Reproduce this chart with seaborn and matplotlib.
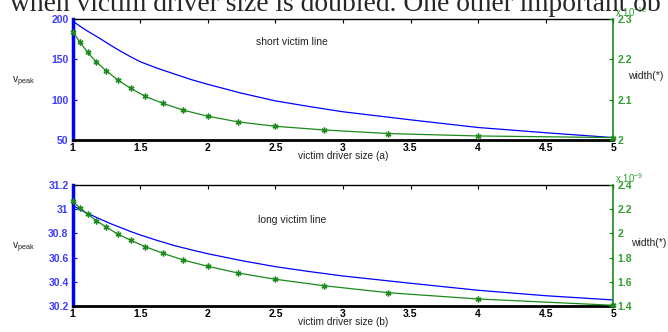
import matplotlib
matplotlib.use('Agg')
import matplotlib.pyplot as plt
import seaborn as sns
from matplotlib.ticker import FuncFormatter

# victim driver sizes where width was sampled (markers)
driver_size = [1.0, 1.053, 1.111, 1.176, 1.25, 1.333, 1.429, 1.538, 1.667,
               1.818, 2.0, 2.222, 2.5, 2.857, 3.333, 4.0, 5.0]
# width, short line (x 1e-10) and long line (x 1e-9)
width_short = [2.2685, 2.243, 2.217, 2.193, 2.171, 2.149, 2.128, 2.108, 2.091,
               2.074, 2.059, 2.045, 2.034, 2.025, 2.016, 2.010, 2.006]
width_long = [2.265, 2.21, 2.158, 2.105, 2.050, 1.995, 1.943, 1.89, 1.836,
              1.78, 1.728, 1.673, 1.621, 1.568, 1.51, 1.458, 1.406]

# peak voltage curves
vpeak_x = [1.0, 1.05, 1.1, 1.15, 1.2, 1.275, 1.35, 1.425, 1.5, 1.625, 1.75, 1.875,
           2.0, 2.25, 2.5, 2.75, 3.0, 3.5, 4.0, 4.5, 5.0]
vpeak_short = [197.5, 191.5, 186, 181, 176, 168, 160.5, 153.5, 147, 139, 132, 125,
               119, 108, 98.5, 91.5, 85, 75, 65.5, 59, 53]
vpeak_long = [31.03, 31.0, 30.97, 30.945, 30.92, 30.883, 30.85, 30.817, 30.787,
              30.742, 30.70, 30.665, 30.632, 30.575, 30.525, 30.485, 30.448,
              30.388, 30.33, 30.285, 30.25]

xticks = [1, 1.5, 2, 2.5, 3, 3.5, 4, 4.5, 5]

sns.set_style("white")
plt.rcParams['font.family'] = ['Liberation Sans', 'DejaVu Sans']
plt.rcParams['mathtext.fontset'] = 'custom'
plt.rcParams['mathtext.rm'] = 'Liberation Sans'

BLUE = '#0000ff'
BLUE_TXT = '#3c3cff'
GREEN = '#1a8a1a'
GREEN_TXT = '#2e9e2e'
gfmt = FuncFormatter(lambda v, p: '%g' % round(v, 6))

W, H = 668, 332
fig = plt.figure(figsize=(W / 100, H / 100), dpi=100)


def panel(top_px, vx, vy, wy, ylim, yticks, wlim, wticks, xlabel, note, note_xy, note_ha, exp):
    ax = fig.add_axes([72.7 / W, 1 - (top_px + 121) / H, 540.5 / W, 121 / H])
    ax2 = ax.twinx()
    sns.lineplot(x=vx, y=vy, ax=ax, color=BLUE, lw=0.9)
    sns.lineplot(x=driver_size, y=wy, ax=ax2, color=GREEN, lw=0.9,
                 marker=(6, 2, 0), markersize=4.2, markeredgecolor=GREEN,
                 markeredgewidth=1.0, clip_on=False)
    ax.set_xlim(1, 5)
    ax.set_ylim(*ylim)
    ax.set_yticks(yticks)
    ax.set_xticks(xticks)
    ax.xaxis.set_major_formatter(gfmt)
    ax.yaxis.set_major_formatter(gfmt)
    ax2.set_ylim(*wlim)
    ax2.set_yticks(wticks)
    ax2.yaxis.set_major_formatter(gfmt)
    ax.tick_params(axis='x', direction='in', length=3, top=True, labelsize=7.5,
                   pad=2, colors='black')
    ax.tick_params(axis='y', direction='in', length=3, labelsize=7.5, pad=3,
                   colors=BLUE, labelcolor=BLUE_TXT)
    ax2.tick_params(axis='y', direction='in', length=3, labelsize=7.5, pad=3,
                    colors=GREEN, labelcolor=GREEN_TXT)
    for lab in ax.get_xticklabels() + ax.get_yticklabels() + ax2.get_yticklabels():
        lab.set_fontweight('bold')
    ax.spines['left'].set_color(BLUE)
    ax.spines['left'].set_linewidth(2.5)
    ax.spines['bottom'].set_linewidth(2)
    ax.spines['bottom'].set_color('black')
    ax.spines['top'].set_linewidth(1)
    ax.spines['top'].set_color('black')
    ax.spines['right'].set_visible(False)
    for s in ['left', 'bottom', 'top']:
        ax2.spines[s].set_visible(False)
    ax2.spines['right'].set_color(GREEN)
    ax2.spines['right'].set_linewidth(1.2)
    ax.set_xlabel('')
    ax.set_ylabel('')
    ax2.set_ylabel('')
    ax.text(note_xy[0], note_xy[1], note, fontsize=7.5, ha=note_ha, va='center',
            color='#222222')
    fig.text(343 / W, 1 - (top_px + 137) / H, xlabel, fontsize=7.3, ha='center',
             va='center', color='#222222')
    fig.text(12 / W, 1 - (top_px + 63) / H, r'v$_{\rm peak}$', fontsize=7.5,
             ha='left', va='center', color='#222222')
    fig.text(615 / W, 1 - (top_px - 6.5) / H, r'x 10$^{%s}$' % exp, fontsize=7,
             ha='left', va='center', color=GREEN_TXT)
    return ax, ax2


panel(19, vpeak_x, vpeak_short, width_short, (50, 200), [50, 100, 150, 200],
      (2.0, 2.3), [2.0, 2.1, 2.2, 2.3], 'victim driver size (a)',
      'short victim line', (2.62, 171.5), 'center', '-10')
fig.text(628 / W, 1 - 76 / H, 'width(*)', fontsize=7.5, ha='left', va='center',
         color='#222222')

panel(185, vpeak_x, vpeak_long, width_long, (30.2, 31.2),
      [30.2, 30.4, 30.6, 30.8, 31.0, 31.2],
      (1.4, 2.4), [1.4, 1.6, 1.8, 2.0, 2.2, 2.4], 'victim driver size (b)',
      'long victim line', (2.37, 30.91), 'left', '-9')
fig.text(631 / W, 1 - 243 / H, 'width(*)', fontsize=7.5, ha='left', va='center',
         color='#222222')

fig.text(10 / W, 1 - 11 / H, 'when victim driver size is doubled. One other important ob',
         family='Liberation Serif', fontsize=19.8, va='baseline', ha='left')

fig.savefig('out.png', dpi=100)
